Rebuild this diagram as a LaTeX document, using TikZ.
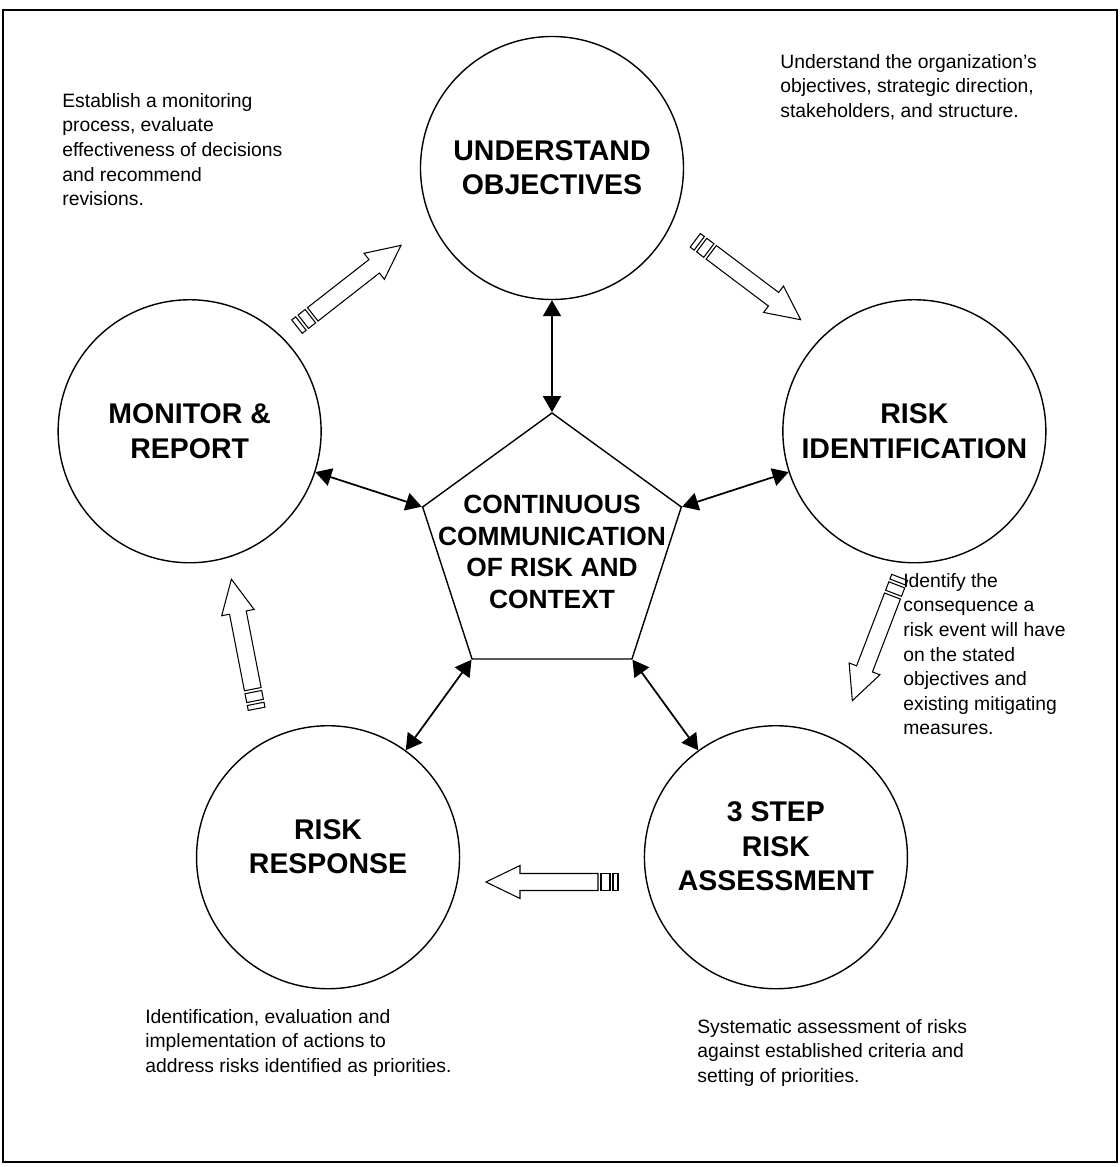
\documentclass[tikz,border=0pt]{standalone}
\usepackage{fontspec}
\setmainfont{Liberation Sans}
\usetikzlibrary{shapes.geometric,arrows.meta}

% hollow process arrow with two tail bands, pointing along +x
\tikzset{
  pics/flowarrow/.style={code={
    \draw[line width=0.6pt, fill=white] (-0.92,-0.17) -- (0.64,-0.17) -- (0.64,-0.33)
      -- (1.32,0) -- (0.64,0.33) -- (0.64,0.17) -- (-0.92,0.17) -- cycle;
    \draw[line width=0.6pt] (-1.16,-0.17) rectangle (-0.98,0.17);
    \draw[line width=0.6pt] (-1.32,-0.17) rectangle (-1.22,0.17);
  }}
}

\begin{document}
\begin{tikzpicture}[
    stage/.style={draw, circle, line width=0.8pt, minimum size=5.26cm, inner sep=0pt,
      align=center, font=\fontsize{16.2}{19.5}\selectfont\bfseries},
    note/.style={anchor=north west, inner sep=0pt, align=left,
      font=\fontsize{11}{14}\selectfont},
    link/.style={{Triangle[length=0.32cm,width=0.36cm]}-{Triangle[length=0.32cm,width=0.36cm]},
      line width=1pt}
  ]
  \useasboundingbox (-11.04,-12.36) rectangle (11.36,10.98);
  % frame
  \draw[line width=1pt] (-10.98,-12.26) rectangle (11.30,10.78);

  % central pentagon
  \node[draw, regular polygon, regular polygon sides=5, minimum size=5.44cm,
    inner sep=0pt, line width=0.8pt] (hub) at (0,0) {};
  \node[align=center, font=\fontsize{15}{18}\selectfont\bfseries] (hub-text) at (0,-0.06)
    {CONTINUOUS\\COMMUNICATION\\OF RISK AND\\CONTEXT};

  % the five stages (lower two sit a little high in their circles)
  \node[stage] (und) at (90:7.62) {UNDERSTAND\\OBJECTIVES};
  \node[stage] (ident) at (18:7.62) {RISK\\IDENTIFICATION};
  \node[stage, text depth=0.44cm] (assess) at (-54:7.62) {3 STEP\\RISK\\ASSESSMENT};
  \node[stage, text depth=0.44cm] (resp) at (-126:7.62) {RISK\\RESPONSE};
  \node[stage] (mon) at (162:7.62) {MONITOR \&\\REPORT};

  % links to the centre
  \draw[link] (hub.corner 1) -- (und);
  \draw[link] (hub.corner 5) -- (ident);
  \draw[link] (hub.corner 4) -- (assess);
  \draw[link] (hub.corner 3) -- (resp);
  \draw[link] (hub.corner 2) -- (mon);

  % cycle arrows
  \pic[rotate=38] at (-4.06,5.26) {flowarrow};
  \pic[rotate=-37] at (3.92,5.38) {flowarrow};
  \pic[rotate=-111] at (6.48,-1.8) {flowarrow};
  \pic[rotate=180] at (0,-6.66) {flowarrow};
  \pic[rotate=101] at (-6.16,-1.9) {flowarrow};

  % descriptions
  \node[note] (n-und) at (4.56,9.9) {Understand the organization’s\\objectives, strategic direction,\\stakeholders, and structure.};
  \node[note] (n-mon) at (-9.8,9.12) {Establish a monitoring\\process, evaluate\\effectiveness of decisions\\and recommend\\revisions.};
  \node[note] (n-ident) at (7.02,-0.48) {Identify the\\consequence a\\risk event will have\\on the stated\\objectives and\\existing mitigating\\measures.};
  \node[note] (n-resp) at (-8.14,-9.2) {Identification, evaluation and\\implementation of actions to\\address risks identified as priorities.};
  \node[note] (n-assess) at (2.9,-9.4) {Systematic assessment of risks\\against established criteria and\\setting of priorities.};
\end{tikzpicture}
\end{document}
